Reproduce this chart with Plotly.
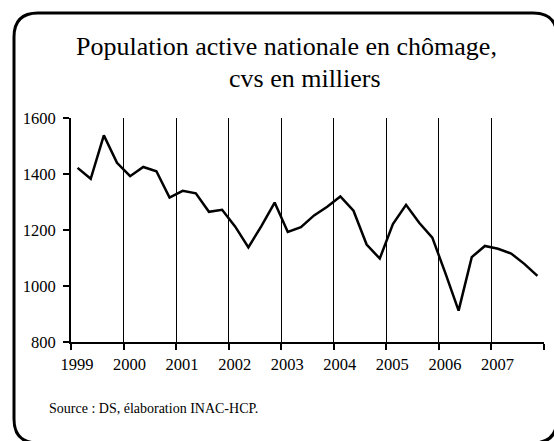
import plotly.graph_objects as go

# Données trimestrielles cvs (milliers), 1999T1 - 2007T4
annees = [1999, 2000, 2001, 2002, 2003, 2004, 2005, 2006, 2007]
trimestres = [1, 2, 3, 4]
chomeurs = [
    1422, 1383, 1538, 1440,
    1392, 1425, 1410, 1316,
    1340, 1331, 1265, 1272,
    1212, 1138, 1215, 1298,
    1193, 1210, 1252, 1283,
    1320, 1269, 1148, 1098,
    1221, 1290, 1226, 1173,
    1045, 912, 1103, 1143,
    1133, 1116, 1079, 1036,
]
y_ticks = [800, 1000, 1200, 1400, 1600]

# position de chaque trimestre au milieu de sa case
x_pos = [a + (t - 0.5) / 4 for a in annees for t in trimestres]

POLICE = "Liberation Serif"

fig = go.Figure()
fig.add_trace(go.Scatter(
    x=x_pos, y=chomeurs, mode='lines',
    line=dict(color='black', width=2.5),
    showlegend=False, hoverinfo='skip'
))

L, R, T, B = 71, 10, 118, 99
W, H = 554, 441
pw, ph = W - L - R, H - T - B

def px(x):
    return (x - L) / pw

def py(y):
    return (H - B - y) / ph

# cadre arrondi
x0, x1, y0, y1, r = 14, 557, 13, 443, 24
rx, ry = r / pw, r / ph
chemin = (
    f"M {px(x0)},{py(y0) - ry} "
    f"Q {px(x0)},{py(y0)} {px(x0) + rx},{py(y0)} "
    f"L {px(x1) - rx},{py(y0)} "
    f"Q {px(x1)},{py(y0)} {px(x1)},{py(y0) - ry} "
    f"L {px(x1)},{py(y1) + ry} "
    f"Q {px(x1)},{py(y1)} {px(x1) - rx},{py(y1)} "
    f"L {px(x0) + rx},{py(y1)} "
    f"Q {px(x0)},{py(y1)} {px(x0)},{py(y1) + ry} Z"
)
fig.add_shape(type='path', path=chemin, xref='paper', yref='paper',
              line=dict(color='black', width=3), layer='above')

fig.add_annotation(text="Population active nationale en chômage,",
                   x=px(286), y=py(47), xref='paper', yref='paper',
                   showarrow=False, xanchor='center', yanchor='middle',
                   font=dict(family=POLICE, size=26, color='black'))
fig.add_annotation(text="cvs en milliers",
                   x=px(305), y=py(78), xref='paper', yref='paper',
                   showarrow=False, xanchor='center', yanchor='middle',
                   font=dict(family=POLICE, size=26, color='black'))
fig.add_annotation(text="Source : DS, élaboration INAC-HCP.",
                   x=px(47), y=py(408), xref='paper', yref='paper',
                   showarrow=False, xanchor='left', yanchor='middle',
                   font=dict(family=POLICE, size=14, color='black'))

fig.update_layout(
    width=W, height=H,
    margin=dict(l=L, r=R, t=T, b=B),
    paper_bgcolor='white', plot_bgcolor='white',
    font=dict(family=POLICE, size=16, color='black'),
    xaxis=dict(
        range=[annees[0], annees[-1] + 1],
        tickvals=annees + [annees[-1] + 1],
        ticktext=[str(a) for a in annees] + [''],
        tickfont=dict(family=POLICE, size=16.5, color='black'),
        showgrid=True, gridcolor='black', gridwidth=1,
        showline=True, linecolor='black', linewidth=2,
        ticks='outside', ticklen=6, tickwidth=2, tickcolor='black',
        ticklabelshift=6, zeroline=False,
    ),
    yaxis=dict(
        range=[800, 1600], tickvals=y_ticks,
        tickfont=dict(family=POLICE, size=16.5, color='black'),
        showgrid=False,
        showline=True, linecolor='black', linewidth=2,
        ticks='outside', ticklen=6, tickwidth=2, tickcolor='black',
        ticklabelstandoff=4, zeroline=False,
    ),
)

fig.write_html("out.html", config={'displayModeBar': False},
               post_script="document.body.style.margin='0';")
